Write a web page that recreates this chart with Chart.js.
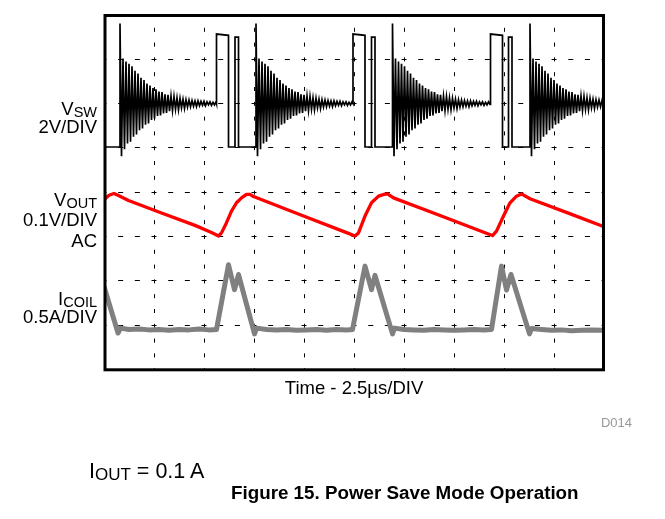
<!DOCTYPE html>
<html>
<head>
<meta charset="utf-8">
<title>Figure 15. Power Save Mode Operation</title>
<script src="https://cdn.jsdelivr.net/npm/chart.js@4.4.1/dist/chart.umd.min.js"></script>
<style>
    body { margin: 0; background: #fff; }
    #wrap { position: relative; width: 665px; height: 519px; font-family: "Liberation Sans", Arial, sans-serif; color: #000; }
    #plot { position: absolute; left: 0; top: 0; }
    .lbl { position: absolute; right: 568px; font-size: 18.5px; line-height: 18px; white-space: nowrap; text-align: right; }
    .sub { font-size: 14.5px; position: relative; top: 2px; }
    #d014 { position: absolute; right: 33px; top: 416px; font-size: 13px; line-height: 13px; color: #999; }
    #iout { position: absolute; left: 89px; top: 461.5px; font-size: 21.5px; line-height: 18px; white-space: nowrap; }
    #iout .sub { font-size: 17px; top: 2.5px; }
    #caption { position: absolute; left: 231px; top: 484px; font-size: 18.8px; line-height: 18px; font-weight: bold; white-space: nowrap; }
</style>
</head>
<body>
<div id="wrap">
    <canvas id="plot" width="665" height="519"></canvas>
    <div class="lbl" style="top:99.6px">V<span class="sub">SW</span></div>
    <div class="lbl" style="top:117.6px">2V/DIV</div>
    <div class="lbl" style="top:191.1px">V<span class="sub">OUT</span></div>
    <div class="lbl" style="top:211.1px">0.1V/DIV</div>
    <div class="lbl" style="top:231.6px">AC</div>
    <div class="lbl" style="top:289.6px">I<span class="sub">COIL</span></div>
    <div class="lbl" style="top:307.6px">0.5A/DIV</div>
    <div id="d014">D014</div>
    <div id="iout">I<span class="sub">OUT</span> = 0.1 A</div>
    <div id="caption">Figure 15. Power Save Mode Operation</div>
</div>
<script>
// all values in screen divisions (x: 0..10 time div, y: 0..8 div from bottom)

// switch node: burst starts, high-side pulses, levels
const vswBurstStart = [0.32, 3.04, 5.77, 8.52];
const vswHighOn = [2.25, 4.98, 7.73];
const vswHighOff = [2.49, 5.22, 7.97];
const vswPulseOn = [2.62, 5.35, 8.09];
const vswPulseOff = [2.69, 5.42, 8.16];
const vswLow = 5.02;
const vswHigh = [7.57, 7.54];
const vswPulseHigh = 7.5;
const vswSettle = 6.0;

// ringing after each burst start, one reading per half period
const ringStep = 0.03;
const ringVals = [
    7.81, 4.81, 7.02, 4.97, 6.95, 5.1, 6.9, 5.14, 6.84, 5.25,
    6.74, 5.3, 6.68, 5.4, 6.58, 5.44, 6.53, 5.52, 6.45, 5.55,
    6.41, 5.63, 6.35, 5.66, 6.32, 5.72, 6.27, 5.73, 6.26, 5.78,
    6.21, 5.79, 6.2, 5.83, 6.17, 5.84, 6.16, 5.87, 6.13, 5.86,
    6.12, 5.9, 6.1, 5.89, 6.09, 5.92, 6.08, 5.93, 6.07, 5.94,
    6.06, 5.93, 6.06, 5.95, 6.05, 5.96, 6.05, 5.95, 6.04, 5.97,
    6.04, 5.96, 6.03, 5.97, 6.04, 5.98
];

// output voltage ripple (AC)
const voutTime = [0, 0.1, 0.2, 0.3, 0.49, 1.15, 1.82, 2.15, 2.22, 2.29, 2.35, 2.45, 2.55, 2.65, 2.75, 2.85, 2.92, 2.99,
    3.9, 4.89, 5.02, 5.09, 5.22, 5.35, 5.49, 5.6, 5.67, 5.79, 6.8, 7.7, 7.77, 7.85, 7.99, 8.12, 8.25, 8.35, 8.52, 9.3, 10];
const voutLevel = [3.83, 3.93, 3.97, 3.92, 3.81, 3.53, 3.25, 3.09, 3.05, 3.01, 3.08, 3.31, 3.57, 3.76, 3.87, 3.95, 3.95, 3.9,
    3.5, 3.07, 3.01, 3.08, 3.46, 3.76, 3.91, 3.95, 3.96, 3.87, 3.44, 3.05, 3.02, 3.12, 3.46, 3.76, 3.91, 3.96, 3.85, 3.52, 3.22];

// coil current
const icoilTime = [0, 0.28, 0.33, 0.5, 0.7, 0.9, 1.1, 1.3, 1.5, 1.7, 1.9, 2.1, 2.25, 2.49, 2.61, 2.69, 3.01, 3.05,
    3.25, 3.45, 3.65, 3.85, 4.05, 4.25, 4.45, 4.65, 4.85, 4.97, 5.22, 5.35, 5.42, 5.77, 5.81, 6.0, 6.2, 6.4, 6.6, 6.8,
    7.0, 7.2, 7.4, 7.6, 7.75, 7.95, 8.05, 8.14, 8.51, 8.55, 8.75, 8.95, 9.15, 9.35, 9.55, 9.75, 10];
const icoilLevel = [1.87, 0.82, 0.93, 0.9, 0.91, 0.89, 0.9, 0.88, 0.9, 0.89, 0.91, 0.89, 0.9, 2.36, 1.8, 2.14, 0.8, 0.93,
    0.9, 0.89, 0.9, 0.88, 0.89, 0.9, 0.88, 0.9, 0.89, 0.9, 2.33, 1.8, 2.12, 0.8, 0.93, 0.9, 0.89, 0.88, 0.9, 0.89,
    0.88, 0.89, 0.9, 0.89, 0.9, 2.33, 1.79, 2.14, 0.8, 0.92, 0.9, 0.88, 0.89, 0.87, 0.88, 0.89, 0.88];

function buildVsw() {
    const pts = [{ x: 0, y: vswLow }];
    vswBurstStart.forEach((start, k) => {
        pts.push({ x: start, y: vswLow });
        const stop = k < vswHighOn.length ? vswHighOn[k] : 10;
        for (let i = 0; i < ringVals.length; i++) {
            const t = start + i * ringStep;
            if (t >= stop) break;
            pts.push({ x: t, y: ringVals[i] });
        }
        if (k < vswHighOn.length) {
            pts.push(
                { x: vswHighOn[k], y: vswSettle },
                { x: vswHighOn[k], y: vswHigh[0] },
                { x: vswHighOff[k], y: vswHigh[1] },
                { x: vswHighOff[k], y: vswLow },
                { x: vswPulseOn[k], y: vswLow },
                { x: vswPulseOn[k], y: vswPulseHigh },
                { x: vswPulseOff[k], y: vswPulseHigh },
                { x: vswPulseOff[k], y: vswLow }
            );
        }
    });
    return pts;
}

const zip = (xs, ys) => xs.map((x, i) => ({ x: x, y: ys[i] }));

const framePlugin = {
    id: 'scopeFrame',
    afterDraw(chart) {
        const { ctx, chartArea: a } = chart;
        ctx.save();
        ctx.strokeStyle = '#000';
        ctx.lineWidth = 3;
        ctx.strokeRect(a.left + 1, a.top + 0.5, a.width - 1.5, a.height);
        ctx.restore();
    }
};

const chart = new Chart(document.getElementById('plot'), {
    type: 'line',
    data: {
        datasets: [
            { label: 'VSW', data: buildVsw(), borderColor: '#000', borderWidth: 1.7, borderJoinStyle: 'miter' },
            { label: 'VOUT', data: zip(voutTime, voutLevel), borderColor: '#ff0000', borderWidth: 3.3 },
            { label: 'ICOIL', data: zip(icoilTime, icoilLevel), borderColor: '#808080', borderWidth: 5 }
        ]
    },
    options: {
        responsive: false,
        animation: false,
        devicePixelRatio: 1,
        layout: { padding: { left: 104, right: 61, top: 15, bottom: 119 } },
        elements: {
            point: { radius: 0 },
            line: { tension: 0, borderJoinStyle: 'round', fill: false }
        },
        plugins: { legend: { display: false }, tooltip: { enabled: false } },
        scales: {
            x: {
                type: 'linear', min: 0, max: 10,
                ticks: { display: false, stepSize: 1 },
                grid: { color: '#000', lineWidth: 1, drawTicks: false },
                border: { display: false, dash: [4, 10.8], dashOffset: 2 },
                title: {
                    display: true, text: 'Time - 2.5µs/DIV', color: '#000',
                    font: { family: '"Liberation Sans", Arial, sans-serif', size: 18.5, lineHeight: 1.2 },
                    padding: { top: 8.5, bottom: 0 }
                }
            },
            y: {
                type: 'linear', min: 0, max: 8,
                ticks: { display: false, stepSize: 1 },
                grid: { color: '#000', lineWidth: 1, drawTicks: false },
                border: { display: false, dash: [5, 11.67], dashOffset: 2.5 }
            }
        }
    },
    plugins: [framePlugin]
});
</script>
</body>
</html>
